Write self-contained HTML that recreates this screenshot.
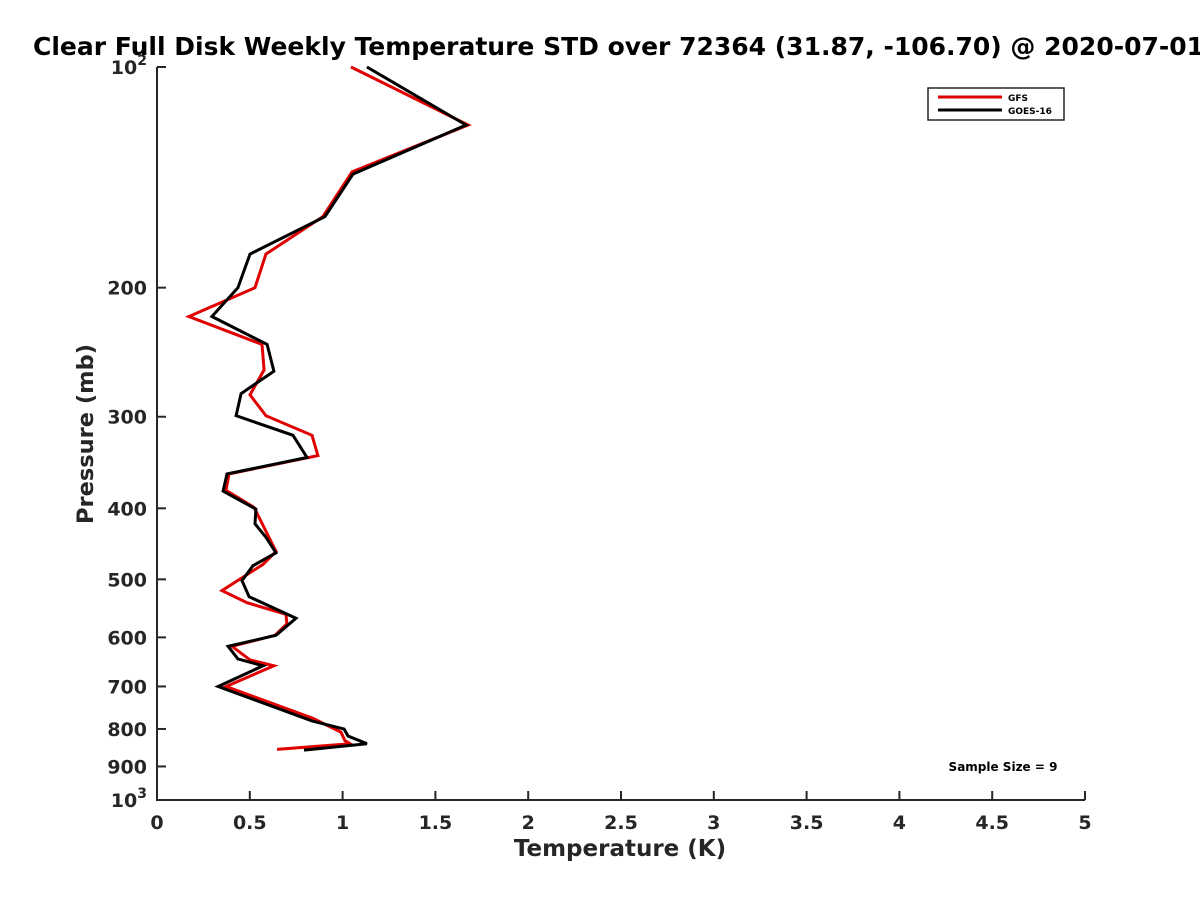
<!DOCTYPE html>
<html><head><meta charset="utf-8"><style>
html,body{margin:0;padding:0;background:#fff;overflow:hidden;}
svg{display:block;font-family:"DejaVu Sans","Liberation Sans",sans-serif;font-weight:bold;}
</style></head><body>
<svg id="chart" width="1200" height="900">
<text x="33" y="55" text-anchor="start" font-size="25" fill="#000">Clear Full Disk Weekly Temperature STD over 72364 (31.87, -106.70) @ 2020-07-01</text>
<g id="axes"></g>
<g id="series"></g>
<g>
<rect x="928" y="88" width="136" height="32" fill="#fff" stroke="#262626" stroke-width="1.5"/>
<line x1="938" y1="97" x2="1002" y2="97" stroke="#e00000" stroke-width="3"/>
<text x="1008" y="101" font-size="9" fill="#000">GFS</text>
<line x1="938" y1="110" x2="1002" y2="110" stroke="#000" stroke-width="3"/>
<text x="1008" y="114" font-size="9" fill="#000">GOES-16</text>
</g>
<text x="1003" y="771" text-anchor="middle" font-size="12" fill="#000">Sample Size = 9</text>
<text x="620" y="856" text-anchor="middle" font-size="23" fill="#262626">Temperature (K)</text>
<text transform="translate(93,434) rotate(-90)" text-anchor="middle" font-size="22.5" fill="#262626">Pressure (mb)</text>
</svg>
<script>
const xTicks = [0,0.5,1,1.5,2,2.5,3,3.5,4,4.5,5];
const xTickLabels = ["0","0.5","1","1.5","2","2.5","3","3.5","4","4.5","5"];
const yTicks = [100,200,300,400,500,600,700,800,900,1000];
const yTickLabels = ["10^2","200","300","400","500","600","700","800","900","10^3"];
const gfsPressure = [100,120,139,160,180,200,219,239,259,280,299,318,339,359,378,399,458,477,518,538,558,575,596,617,644,656,700,774,808,830,838,853];
const gfsTemp = [1.045,1.676,1.051,0.894,0.587,0.528,0.172,0.566,0.577,0.501,0.587,0.835,0.867,0.388,0.372,0.523,0.641,0.571,0.350,0.485,0.695,0.700,0.636,0.404,0.501,0.630,0.372,0.841,0.991,1.013,1.040,0.647];
const goesPressure = [100,120,140,160,180,200,219,239,260,279,299,318,341,359,379,401,420,438,460,479,502,528,565,596,617,642,656,700,780,800,818,838,855];
const goesTemp = [1.131,1.665,1.056,0.905,0.501,0.436,0.296,0.593,0.630,0.453,0.426,0.733,0.808,0.377,0.356,0.533,0.528,0.587,0.641,0.517,0.458,0.496,0.749,0.641,0.383,0.436,0.571,0.329,0.835,1.008,1.029,1.131,0.792];

const NS="http://www.w3.org/2000/svg";
const X0=157,X1=1085,Y0=67,Y1=800;
function xs(t){return X0+(t-0)/(5-0)*(X1-X0);}
function ys(p){return Y0+(Math.log10(p)-2)*(Y1-Y0);}
function mk(tag,attrs,parent){const e=document.createElementNS(NS,tag);for(const k in attrs)e.setAttribute(k,attrs[k]);parent.appendChild(e);return e;}
const axes=document.getElementById('axes');
const ax=mk('path',{d:`M${X0},${Y0}V${Y1}H${X1}`,fill:'none',stroke:'#262626','stroke-width':2},axes);


xTicks.forEach((v,i)=>{
  const x=xs(v);
  const t=mk('line',{x1:x,y1:Y1,x2:x,y2:Y1-9,stroke:'#262626','stroke-width':2},axes);
  
  
  const l=mk('text',{x:x,y:Y1+29,'text-anchor':'middle','font-size':19,fill:'#262626'},axes);
  
  
  l.textContent=xTickLabels[i];
});
yTicks.forEach((v,i)=>{
  const y=ys(v);
  const t=mk('line',{x1:X0,y1:y,x2:X0+9,y2:y,stroke:'#262626','stroke-width':2},axes);
  
  
  const l=mk('text',{x:X0-10,y:y+7,'text-anchor':'end','font-size':19,fill:'#262626'},axes);
  
  
  const s=yTickLabels[i];
  if(s.indexOf('^')>=0){
    const [b,e]=s.split('^');
    l.textContent=b;
    const sp=mk('tspan',{dy:-9,'font-size':14},l);
    sp.textContent=e;
  } else l.textContent=s;
});
const ser=document.getElementById('series');
function line(P,T,color,name){
  const d=P.map((p,i)=>(i?'L':'M')+xs(T[i]).toFixed(1)+','+ys(p).toFixed(1)).join('');
  const e=mk('path',{d:d,fill:'none',stroke:color,'stroke-width':3,'stroke-linejoin':'miter'},ser);
  
  
}
line(gfsPressure,gfsTemp,'#e00000','gfs-line');
line(goesPressure,goesTemp,'#000','goes-16-line');
</script>
</body></html>
